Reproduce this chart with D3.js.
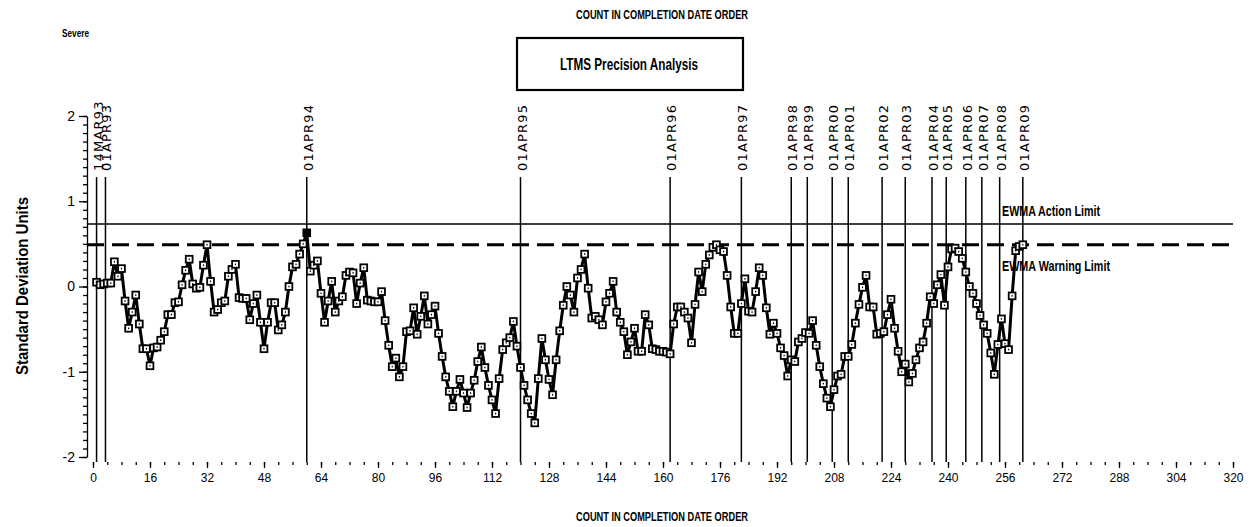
<!DOCTYPE html>
<html><head><meta charset="utf-8">
<script src="https://cdn.jsdelivr.net/npm/d3@7"></script>
<style>
body{margin:0;background:#fff}
svg{display:block}
.narrow{font-family:"Liberation Sans","Arial",sans-serif;font-weight:bold}
</style>
</head><body>
<svg id="chart" width="1250" height="527"></svg>
<script>
// ---- data ----
const values = [
 0.05, 0.02, 0.03, 0.04, 0.04, 0.29, 0.12, 0.21,-0.17,-0.49,
-0.30,-0.10,-0.44,-0.73,-0.73,-0.93,-0.72,-0.71,-0.63,-0.53,
-0.33,-0.33,-0.19,-0.18, 0.02, 0.19, 0.32, 0.03,-0.02,-0.01,
 0.25, 0.49, 0.06,-0.30,-0.27,-0.19,-0.17, 0.12, 0.20, 0.26,
-0.13,-0.14,-0.14,-0.39,-0.20,-0.10,-0.42,-0.73,-0.42,-0.19,
-0.19,-0.51,-0.45,-0.30, 0.00, 0.23, 0.26, 0.38, 0.50, 0.63,
 0.18, 0.25, 0.30,-0.08,-0.42,-0.17, 0.06,-0.30,-0.17,-0.12,
 0.13, 0.17, 0.16,-0.20, 0.04, 0.22,-0.16,-0.17,-0.18,-0.18,
-0.06,-0.40,-0.69,-0.94,-0.84,-1.06,-0.94,-0.53,-0.52,-0.25,
-0.56,-0.35,-0.11,-0.44,-0.33,-0.23,-0.55,-0.82,-1.06,-1.23,
-1.41,-1.23,-1.09,-1.25,-1.42,-1.25,-1.10,-0.88,-0.71,-0.95,
-1.16,-1.33,-1.49,-1.08,-0.74,-0.66,-0.60,-0.41,-0.70,-0.95,
-1.16,-1.33,-1.49,-1.60,-1.08,-0.61,-0.86,-1.09,-1.27,-0.86,
-0.52,-0.22, 0.00,-0.10,-0.30, 0.10, 0.20, 0.38,-0.02,-0.37,
-0.35,-0.39,-0.45,-0.18,-0.08, 0.06,-0.30,-0.42,-0.53,-0.80,
-0.65,-0.49,-0.76,-0.76,-0.33,-0.45,-0.73,-0.74,-0.76,-0.76,
-0.77,-0.79,-0.44,-0.24,-0.24,-0.30,-0.37,-0.66,-0.21, 0.17,
-0.06, 0.26, 0.37, 0.46, 0.49, 0.43, 0.41, 0.13,-0.24,-0.55,
-0.55,-0.20, 0.09,-0.29,-0.30,-0.06, 0.22, 0.13,-0.25,-0.56,
-0.43,-0.55,-0.72,-0.81,-1.05,-0.86,-0.88,-0.65,-0.61,-0.54,
-0.55,-0.40,-0.69,-0.94,-1.14,-1.31,-1.41,-1.21,-1.05,-1.03,
-0.82,-0.82,-0.68,-0.43,-0.21,-0.01, 0.13,-0.24,-0.24,-0.56,
-0.55,-0.53,-0.33,-0.15,-0.49,-0.76,-1.00,-0.91,-1.12,-1.02,
-0.86,-0.72,-0.65,-0.43,-0.12,-0.20, 0.02, 0.14,-0.22, 0.23,
 0.44, 0.45, 0.41, 0.33, 0.17, 0.00,-0.08,-0.20,-0.34,-0.45,
-0.55,-0.78,-1.03,-0.68,-0.38,-0.67,-0.74,-0.11, 0.42, 0.47,
 0.49
];
const dateLabels = ["14MAR93","01APR93","01APR94","01APR95","01APR96","01APR97","01APR98","01APR99",
  "01APR00","01APR01","01APR02","01APR03","01APR04","01APR05","01APR06","01APR07","01APR08","01APR09"];
const dateCounts = [1,3.5,60,120,162,182,196,200.5,207.5,212,221.5,228,235.5,239.5,245,249.5,254.5,261];
const actionLimit = 0.733;
const warningLimit = 0.49;
const xTickValues = [0,16,32,48,64,80,96,112,128,144,160,176,192,208,224,240,256,272,288,304,320];
const yTickValues = [-2,-1,0,1,2];
const titleText = "COUNT IN COMPLETION DATE ORDER";
const boxTitle = "LTMS Precision Analysis";
const yLabel = "Standard Deviation Units";
const cornerText = "Severe";

// ---- drawing ----
const svg = d3.select("#chart");
const x = d3.scaleLinear().domain([0,320]).range([93,1233]);
const y = d3.scaleLinear().domain([-2,2]).range([457,116]);
const axisY = 462;

function narrowText(px, py, size, len, txt, anchor){
  return svg.append("text").attr("class","narrow").attr("x",px).attr("y",py)
    .attr("font-size",size).attr("text-anchor",anchor||"start")
    .attr("textLength",len).attr("lengthAdjust","spacingAndGlyphs").text(txt);
}

// top title + corner
narrowText(662,19,12,172,titleText,"middle");
narrowText(62,37,10,27,cornerText);

// box title
svg.append("rect").attr("x",517).attr("y",38).attr("width",226).attr("height",52)
  .attr("fill","none").attr("stroke","#000").attr("stroke-width",2.2);
narrowText(629,70,17,138,boxTitle,"middle");

// y axis label
svg.append("text").attr("class","narrow").attr("font-size",16)
  .attr("text-anchor","middle").attr("textLength",178).attr("lengthAdjust","spacingAndGlyphs")
  .attr("transform","translate(28,286) rotate(-90)").text(yLabel);

// y axis
const gy = svg.append("g").attr("transform","translate(87,0)");
gy.call(d3.axisLeft(y).tickValues(d3.range(-20,21).map(d=>d/10)).tickSize(4).tickSizeOuter(0).tickFormat(""));
const gy2 = svg.append("g").attr("transform","translate(87,0)");
gy2.call(d3.axisLeft(y).tickValues(yTickValues).tickSize(8).tickSizeOuter(0).tickPadding(4).tickFormat(d=>String(d)));
gy2.select(".domain").remove();
[gy,gy2].forEach(g=>{g.selectAll("line,path").attr("stroke","#000").attr("stroke-width",1.3);});
gy2.selectAll("text").attr("font-family","Liberation Sans, sans-serif").attr("font-size",14).attr("fill","#000");

// x axis
const gx = svg.append("g").attr("transform",`translate(0,${axisY})`);
gx.call(d3.axisBottom(x).tickValues(d3.range(0,321,4)).tickSize(3).tickSizeOuter(0).tickFormat(""));
gx.select(".domain").remove();
const gx2 = svg.append("g").attr("transform",`translate(0,${axisY})`);
gx2.call(d3.axisBottom(x).tickValues(xTickValues).tickSize(6).tickSizeOuter(0).tickPadding(5).tickFormat(d=>String(d)));
gx2.select(".domain").remove();
[gx,gx2].forEach(g=>{g.selectAll("line,path").attr("stroke","#000").attr("stroke-width",1.3);});
gx2.selectAll("text").attr("font-family","Liberation Sans, sans-serif").attr("font-size",12).attr("fill","#000");

// bottom title
narrowText(662,521,12,172,titleText,"middle");

// date reference lines
const dl = svg.append("g");
dl.selectAll("line").data(dateCounts).join("line")
  .attr("x1",d=>x(d)).attr("x2",d=>x(d)).attr("y1",177).attr("y2",axisY)
  .attr("stroke","#000").attr("stroke-width",1.5);
dl.selectAll("text").data(dateLabels).join("text")
  .attr("transform",(d,i)=>`translate(${x(dateCounts[i])+6},171) rotate(-90)`)
  .attr("font-family","DejaVu Sans, sans-serif").attr("font-size",13)
  .attr("letter-spacing",1.2).attr("fill","#000").text(d=>d);

// limit lines
svg.append("line").attr("x1",87).attr("x2",1233).attr("y1",y(actionLimit)).attr("y2",y(actionLimit))
  .attr("stroke","#000").attr("stroke-width",1.5);
svg.append("line").attr("x1",87).attr("x2",1233).attr("y1",y(warningLimit)).attr("y2",y(warningLimit))
  .attr("stroke","#000").attr("stroke-width",3).attr("stroke-dasharray","17,8");
narrowText(1002,y(actionLimit)-8,14,98,"EWMA Action Limit");
narrowText(1002,y(warningLimit)+26,14,108,"EWMA Warning Limit");

// series line
const pts = values.map((v,i)=>({c:i+1,v}));
svg.append("path").datum(pts)
  .attr("d",d3.line().x(d=>x(d.c)).y(d=>y(d.v)))
  .attr("fill","none").attr("stroke","#000").attr("stroke-width",3).attr("stroke-linejoin","round");

// markers
const mk = svg.append("g").selectAll("g").data(pts).join("g")
  .attr("transform",d=>`translate(${x(d.c)},${y(d.v)})`);
mk.append("rect").attr("x",-3.4).attr("y",-3.4).attr("width",6.8).attr("height",6.8)
  .attr("fill",d=>d.v>0.55?"#000":"#fff").attr("stroke","#000").attr("stroke-width",1.8);
mk.append("rect").attr("x",-0.6).attr("y",-0.8).attr("width",1.2).attr("height",1.6).attr("fill","#000");
</script>
</body></html>
